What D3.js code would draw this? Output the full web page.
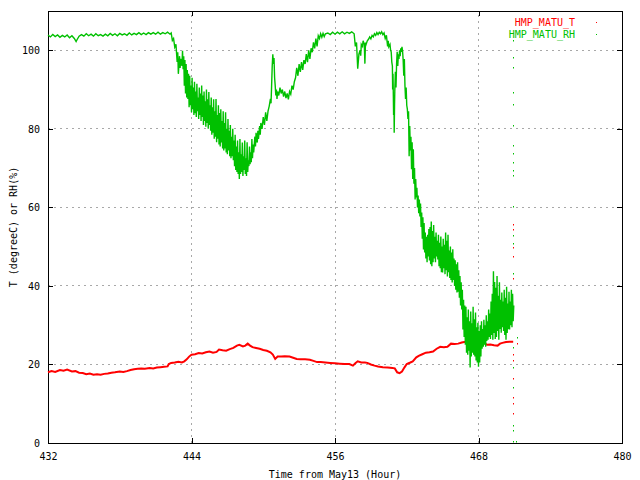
<!DOCTYPE html>
<html>
<head>
<meta charset="utf-8">
<script src="https://cdn.jsdelivr.net/npm/d3@7"></script>
<style>
  body { margin: 0; background: #fff; }
  svg { display: block; }
  text { font-family: "DejaVu Sans Mono", monospace; font-size: 10px; fill: #000; }
</style>
</head>
<body>
<div id="chart"></div>
<script>
// T and RH time series
const xTicks = [432, 444, 456, 468, 480];
const yTicks = [0, 20, 40, 60, 80, 100];
const seriesNames = ["HMP_MATU_T", "HMP_MATU_RH"];

// [hour, degreeC]
const tSeries = [
  [432.0,18.0],[432.3,18.3],[432.6,18.1],[433.0,18.6],[433.3,18.4],[433.6,18.7],[434.0,18.2],[434.3,18.3],
  [434.6,17.9],[434.9,17.8],[435.2,17.5],[435.5,17.7],[435.8,17.4],[436.1,17.5],[436.4,17.4],[436.7,17.6],
  [437.0,17.7],[437.3,17.9],[437.6,18.0],[438.0,18.2],[438.3,18.1],[438.6,18.3],[438.9,18.6],[439.2,18.8],
  [439.5,18.9],[439.8,19.0],[440.1,18.9],[440.5,19.1],[440.8,19.0],[441.1,19.2],[441.4,19.3],[441.7,19.4],
  [442.0,19.5],[442.1,20.1],[442.3,20.4],[442.6,20.5],[442.9,20.7],[443.2,20.5],[443.4,20.8],[443.6,21.3],
  [443.8,22.0],[444.0,22.5],[444.3,22.6],[444.6,22.9],[444.9,22.8],[445.2,23.1],[445.5,23.3],[445.8,23.0],
  [446.1,23.2],[446.3,23.8],[446.6,23.6],[446.9,23.5],[447.2,23.9],[447.5,24.2],[447.8,24.8],[448.0,25.0],
  [448.3,24.6],[448.5,24.8],[448.7,25.3],[448.9,24.8],[449.1,24.4],[449.4,24.2],[449.7,24.0],[450.0,23.7],
  [450.3,23.5],[450.6,23.1],[450.8,22.5],[451.0,21.4],[451.2,22.0],[451.5,22.0],[451.8,22.1],[452.2,22.0],
  [452.5,21.7],[452.8,21.4],[453.1,21.3],[453.5,21.3],[453.9,21.2],[454.2,20.9],[454.5,20.6],[454.8,20.6],
  [455.2,20.5],[455.6,20.4],[456.0,20.3],[456.4,20.2],[456.8,20.1],[457.2,20.1],[457.5,19.7],[457.7,20.3],
  [457.9,20.8],[458.2,20.5],[458.5,20.5],[458.7,20.4],[459.0,20.0],[459.3,19.7],[459.6,19.5],[460.0,19.3],
  [460.4,19.2],[460.8,19.1],[461.0,19.0],[461.2,18.0],[461.4,17.8],[461.6,18.2],[461.8,19.2],[462.0,20.1],
  [462.3,20.5],[462.5,20.8],[462.8,21.8],[463.0,22.2],[463.3,22.6],[463.6,23.0],[463.9,23.1],[464.2,23.3],
  [464.5,24.0],[464.8,24.5],[465.1,24.4],[465.4,24.5],[465.7,25.3],[466.0,25.2],[466.3,25.3],[466.6,25.6],
  [466.9,25.8],[467.2,25.7],[467.6,25.8],[468.0,26.0],[468.3,25.9],[468.7,25.0],[469.0,25.1],[469.3,24.9],
  [469.6,24.8],[469.8,25.3],[470.0,25.5],[470.3,25.7],[470.6,25.8],[470.9,25.8]
];

// [hour, RH %]
const rhSeries = [
  [432.0,103.9],[432.2,103.4],[432.4,104.0],[432.6,103.5],[432.8,103.9],[433.0,103.3],[433.2,103.8],[433.4,103.4],
  [433.6,103.9],[433.8,103.2],[434.0,103.7],[434.2,103.0],[434.35,102.2],[434.45,102.8],[434.6,103.6],[434.8,104.0],
  [435.0,103.6],[435.2,104.2],[435.4,103.7],[435.6,104.1],[435.8,103.6],[436.0,104.2],[436.2,103.7],[436.4,104.0],
  [436.6,103.6],[436.8,104.1],[437.0,103.7],[437.2,104.3],[437.4,103.8],[437.6,104.2],[437.8,103.7],[438.0,104.3],
  [438.2,103.9],[438.4,104.2],[438.6,103.8],[438.8,104.4],[439.0,103.9],[439.2,104.3],[439.4,104.0],[439.6,104.5],
  [439.8,104.0],[440.0,104.4],[440.2,104.0],[440.4,104.5],[440.6,104.1],[440.8,104.5],[441.0,104.1],[441.2,104.6],
  [441.4,104.1],[441.6,104.5],[441.8,104.2],[442.0,104.6],[442.2,104.1],
  [442.3,104.4],[442.4,102.5],[442.5,103.0],[442.6,100.8],[442.7,101.5],[442.8,97.0],[442.85,99.5],[442.9,94.0],
  [443.0,98.5],[443.05,95.5],[443.1,97.8],[443.2,96.0],[443.25,99.9],[443.3,95.2],[443.35,98.5],[443.4,91.0],
  [443.45,97.5],[443.5,89.0],[443.55,96.5],[443.6,88.0],[443.65,95.0],[443.7,87.6],[443.75,94.0],[443.8,85.5],
  [443.85,93.5],[443.9,86.0],[443.95,91.0],[444.0,84.2],[444.05,93.0],[444.1,85.0],[444.15,90.5],[444.2,83.5],
  [444.25,92.0],[444.3,84.0],[444.35,89.5],[444.4,83.0],[444.45,91.5],[444.5,84.5],[444.55,88.0],[444.6,82.5],
  [444.65,90.5],[444.7,83.5],[444.75,89.0],[444.8,82.0],[444.85,91.0],[444.9,83.0],[444.95,88.5],[445.0,81.0],
  [445.05,89.5],[445.1,82.0],[445.15,87.0],[445.2,80.5],[445.25,90.0],[445.3,81.5],[445.35,87.5],[445.4,80.0],
  [445.45,89.4],[445.5,81.0],[445.55,86.0],[445.6,79.5],[445.65,88.0],[445.7,78.5],[445.75,85.5],[445.8,79.0],
  [445.85,87.5],[445.9,77.5],[445.95,84.5],[446.0,78.0],[446.05,87.6],[446.1,76.6],[446.15,83.5],[446.2,77.5],
  [446.25,86.0],[446.3,76.0],[446.35,84.0],[446.4,75.5],[446.45,85.0],[446.5,76.5],[446.55,82.0],[446.6,75.0],
  [446.65,84.5],[446.7,74.5],[446.75,81.5],[446.8,75.0],[446.85,84.2],[446.9,74.0],[446.95,80.0],[447.0,73.5],
  [447.05,82.5],[447.1,74.5],[447.15,79.5],[447.2,73.0],[447.25,81.0],[447.3,72.5],[447.35,78.0],[447.4,73.0],
  [447.45,80.0],[447.5,72.0],[447.55,77.0],[447.6,70.5],[447.65,78.5],[447.7,69.5],[447.75,75.5],[447.8,69.0],
  [447.85,77.0],[447.9,68.5],[447.95,74.0],[448.0,67.2],[448.05,77.4],[448.1,68.5],[448.15,73.5],[448.2,69.0],
  [448.25,76.5],[448.3,68.0],[448.35,73.0],[448.4,69.5],[448.45,77.0],[448.5,68.5],[448.55,72.5],[448.6,68.0],
  [448.65,76.6],[448.7,69.0],[448.75,72.0],[448.8,70.5],[448.85,75.5],[448.9,71.0],[448.95,74.0],[449.0,71.5],
  [449.05,77.4],[449.1,72.5],[449.15,76.0],[449.2,74.0],[449.3,78.0],[449.35,75.5],[449.4,79.0],[449.5,76.5],
  [449.55,79.5],[449.6,77.4],[449.7,80.7],[449.75,78.5],[449.8,81.5],[449.9,80.0],[450.0,83.0],[450.1,81.0],
  [450.2,84.2],[450.3,82.0],[450.4,84.5],[450.5,85.8],[450.6,87.6],[450.65,86.5],[450.7,91.0],[450.75,96.0],
  [450.8,99.0],[450.85,96.5],[450.9,98.0],[450.95,93.0],[451.0,91.0],[451.05,88.5],[451.1,90.0],[451.15,87.6],
  [451.2,89.5],[451.3,88.5],[451.4,90.5],[451.5,89.0],[451.6,90.0],[451.7,88.2],[451.8,89.5],[451.9,87.8],
  [452.0,89.0],[452.1,87.5],[452.2,89.5],[452.3,88.8],[452.4,91.0],[452.5,90.0],[452.6,92.0],[452.7,93.0],
  [452.8,95.5],[452.9,93.5],[453.0,96.5],[453.1,94.5],[453.2,97.0],[453.3,95.0],[453.4,97.5],[453.5,96.5],
  [453.6,99.0],[453.7,97.0],[453.8,100.0],[453.9,97.8],[454.0,100.5],[454.1,99.5],[454.2,102.0],[454.3,100.5],
  [454.4,103.0],[454.5,101.0],[454.6,103.7],[454.7,103.0],[454.8,104.2],[454.9,103.3],[455.0,104.3],[455.1,103.5],
  [455.2,104.2],[455.4,104.4],[455.6,104.0],[455.8,104.6],[456.0,104.1],[456.2,104.6],[456.4,104.2],[456.6,104.7],
  [456.8,104.2],[457.0,104.6],[457.2,104.3],[457.4,104.7],[457.6,104.2],
  [457.7,101.0],[457.8,102.0],[457.9,95.3],[458.0,99.0],[458.1,100.0],[458.15,98.6],[458.2,101.5],[458.3,101.0],
  [458.35,102.4],[458.45,101.5],[458.5,96.6],[458.55,102.0],[458.6,101.5],[458.7,102.4],[458.8,102.8],[458.9,103.4],
  [459.0,102.9],[459.1,103.8],[459.2,103.4],[459.3,104.2],[459.4,103.8],[459.5,104.5],[459.6,104.0],[459.7,104.6],
  [459.8,104.2],[459.9,104.7],[460.0,104.0],[460.1,104.4],[460.2,103.0],[460.3,103.8],[460.4,101.0],[460.45,102.4],
  [460.5,100.9],[460.6,101.5],[460.65,100.0],[460.7,99.6],[460.75,97.0],[460.8,96.0],[460.82,90.0],[460.85,94.0],
  [460.88,88.0],[460.9,83.5],[460.93,87.5],[460.95,79.0],[460.98,86.0],[461.0,89.5],[461.05,94.5],[461.1,90.5],
  [461.15,96.5],[461.2,99.6],[461.25,96.0],[461.3,99.0],[461.35,97.8],[461.4,100.0],[461.45,98.5],[461.5,100.5],
  [461.55,99.6],[461.6,100.9],[461.65,99.8],[461.7,97.5],[461.75,93.5],[461.8,97.8],[461.85,91.0],[461.9,87.6],
  [461.95,90.5],[462.0,86.0],[462.05,85.0],[462.1,82.5],[462.15,84.5],[462.2,73.0],[462.25,80.7],[462.3,74.5],
  [462.35,78.0],[462.4,69.7],[462.45,76.6],[462.5,67.2],[462.55,74.8],[462.6,66.0],[462.65,70.0],[462.7,62.0],
  [462.75,67.2],[462.8,62.5],[462.85,65.0],[462.9,60.0],[462.95,63.0],[463.0,58.5],[463.05,62.0],[463.1,57.7],
  [463.15,61.0],[463.2,55.0],[463.25,58.7],[463.3,52.0],[463.35,57.5],[463.4,49.3],[463.45,56.0],[463.5,48.5],
  [463.55,53.6],[463.6,47.0],[463.65,52.5],[463.7,46.0],[463.75,53.0],[463.8,47.5],[463.85,54.5],[463.9,46.5],
  [463.95,55.0],[464.0,45.5],[464.05,56.4],[464.1,45.0],[464.15,54.0],[464.2,46.0],[464.25,55.5],[464.3,47.0],
  [464.35,52.5],[464.4,46.0],[464.45,53.6],[464.5,47.5],[464.55,51.5],[464.6,46.7],[464.65,53.0],[464.7,45.0],
  [464.75,51.0],[464.8,44.5],[464.85,52.6],[464.9,43.5],[464.95,50.0],[465.0,43.4],[465.05,52.0],[465.1,44.5],
  [465.15,50.5],[465.2,43.0],[465.25,53.6],[465.3,44.0],[465.35,51.5],[465.4,42.4],[465.45,53.0],[465.5,43.5],
  [465.55,49.0],[465.6,42.0],[465.65,50.0],[465.7,41.5],[465.75,48.5],[465.8,40.9],[465.85,49.3],[465.9,41.5],
  [465.95,47.0],[466.0,40.0],[466.05,46.5],[466.1,39.0],[466.15,45.5],[466.2,38.3],[466.25,46.0],[466.3,38.5],
  [466.35,44.0],[466.4,37.0],[466.45,42.5],[466.5,35.0],[466.55,40.9],[466.6,34.0],[466.65,39.0],[466.7,28.9],
  [466.75,36.5],[466.8,27.0],[466.85,35.0],[466.9,25.0],[466.95,34.7],[467.0,23.0],[467.05,32.0],[467.1,22.5],
  [467.15,34.0],[467.2,23.5],[467.25,31.0],[467.3,19.2],[467.35,33.5],[467.4,22.0],[467.45,30.5],[467.5,23.0],
  [467.55,34.7],[467.6,22.5],[467.65,31.5],[467.7,22.0],[467.75,33.2],[467.8,21.0],[467.85,29.5],[467.9,20.5],
  [467.95,30.6],[468.0,19.4],[468.05,28.5],[468.1,20.5],[468.15,30.0],[468.2,22.0],[468.25,31.0],[468.3,24.0],
  [468.35,29.0],[468.4,24.5],[468.45,31.4],[468.5,25.0],[468.55,30.0],[468.6,24.5],[468.65,32.5],[468.7,26.0],
  [468.75,31.0],[468.8,26.3],[468.85,34.0],[468.9,27.0],[468.95,33.0],[469.0,26.5],[469.05,36.0],[469.1,27.5],
  [469.15,38.0],[469.2,26.3],[469.25,43.7],[469.3,28.0],[469.35,41.0],[469.4,26.5],[469.45,39.5],[469.5,27.0],
  [469.55,42.5],[469.6,28.5],[469.65,37.5],[469.7,26.3],[469.75,40.9],[469.8,29.0],[469.85,36.5],[469.9,28.1],
  [469.95,38.3],[470.0,29.5],[470.05,36.0],[470.1,28.5],[470.15,39.0],[470.2,27.5],[470.25,37.0],[470.3,26.3],
  [470.35,39.8],[470.4,28.0],[470.45,35.5],[470.5,29.0],[470.55,38.5],[470.6,28.9],[470.65,36.0],[470.7,30.0],
  [470.75,39.0],[470.8,29.5],[470.85,38.0],[470.9,31.0],[470.95,35.0]
];

// stray single samples around the end of the record
const tDots = [[470.9,55.7],[470.9,54.4],[470.9,49.8],[470.9,47.5],[470.9,42.1],[470.9,22.7],[470.9,21.2],
  [470.9,16.6],[470.9,11.8],[470.9,10.2],[470.9,7.7],[471.2,25.5]];
const rhDots = [[470.9,102.5],[470.9,98.3],[470.9,95.8],[470.9,89.4],[470.9,86.3],[470.9,81.0],[470.9,76.0],
  [470.9,73.8],[470.9,71.5],[470.9,69.5],[470.9,68.2],[470.9,60.3],[470.9,52.9],[470.9,51.0],[470.9,43.2],
  [470.9,24.5],[470.9,19.4],[470.9,14.3],[470.9,4.6],[470.9,3.3],[470.9,0.4],[471.1,0.4],[471.2,27.0]];

const W = 640, H = 480;
const margin = { top: 11, right: 18, bottom: 37, left: 48 };
const colors = { T: "#ff0000", RH: "#00c000" };

const svg = d3.select("#chart").append("svg")
  .attr("width", W)
  .attr("height", H);

const x = d3.scaleLinear().domain([432, 480]).range([margin.left, W - margin.right]);
const y = d3.scaleLinear().domain([0, 110]).range([H - margin.bottom, margin.top]);

// grid
const grid = svg.append("g")
  .attr("stroke", "#a8a8a8")
  .attr("stroke-dasharray", "2,4")
  .attr("shape-rendering", "crispEdges");

grid.selectAll("line.gy")
  .data(yTicks.filter(d => d > 0))
  .enter().append("line")
  .attr("x1", x(432)).attr("x2", x(480))
  .attr("y1", d => y(d)).attr("y2", d => y(d));

grid.selectAll("line.gx")
  .data(xTicks.slice(1, -1))
  .enter().append("line")
  .attr("x1", d => x(d)).attr("x2", d => x(d))
  .attr("y1", y(0)).attr("y2", y(110));

// axes with ticks pointing inwards, mirrored on top and right
const axisB = svg.append("g")
  .attr("transform", `translate(0,${y(0)})`)
  .call(d3.axisBottom(x).tickValues(xTicks).tickSize(-5).tickPadding(10));
const axisT = svg.append("g")
  .attr("transform", `translate(0,${y(110)})`)
  .call(d3.axisTop(x).tickValues(xTicks).tickSize(-5).tickFormat(""));
const axisL = svg.append("g")
  .attr("transform", `translate(${x(432)},0)`)
  .call(d3.axisLeft(y).tickValues(yTicks).tickSize(-5).tickPadding(8));
const axisR = svg.append("g")
  .attr("transform", `translate(${x(480)},0)`)
  .call(d3.axisRight(y).tickValues(yTicks).tickSize(-5).tickFormat(""));

[axisB, axisT, axisL, axisR].forEach(g => {
  g.select(".domain").remove();
  g.selectAll("line").attr("stroke", "#000").attr("shape-rendering", "crispEdges");
  g.selectAll("text")
    .style("font-family", '"DejaVu Sans Mono", monospace')
    .style("font-size", "10px")
    .attr("fill", "#000");
});

// border
svg.append("rect")
  .attr("x", x(432)).attr("y", y(110))
  .attr("width", x(480) - x(432)).attr("height", y(0) - y(110))
  .attr("fill", "none")
  .attr("stroke", "#000")
  .attr("shape-rendering", "crispEdges");

// data
const line = d3.line().x(d => x(d[0])).y(d => y(d[1]));

svg.append("path")
  .datum(tSeries)
  .attr("d", line)
  .attr("fill", "none")
  .attr("stroke", colors.T)
  .attr("stroke-width", 2);

svg.append("path")
  .datum(rhSeries)
  .attr("d", line)
  .attr("fill", "none")
  .attr("stroke", colors.RH)
  .attr("stroke-width", 1.4);

svg.selectAll("rect.tdot")
  .data(tDots)
  .enter().append("rect")
  .attr("class", "tdot")
  .attr("x", d => Math.round(x(d[0])))
  .attr("y", d => Math.round(y(d[1])))
  .attr("width", 1).attr("height", 1.5)
  .attr("fill", colors.T);

svg.selectAll("rect.rhdot")
  .data(rhDots)
  .enter().append("rect")
  .attr("class", "rhdot")
  .attr("x", d => Math.round(x(d[0])))
  .attr("y", d => Math.round(y(d[1])))
  .attr("width", 1).attr("height", 1.5)
  .attr("fill", colors.RH);

// legend
const legend = svg.append("g").attr("transform", "translate(575,22)");
seriesNames.forEach((name, i) => {
  const c = i === 0 ? colors.T : colors.RH;
  legend.append("text")
    .attr("x", 0)
    .attr("y", i * 12)
    .attr("dy", "0.35em")
    .attr("text-anchor", "end")
    .style("fill", c)
    .text(name);
  legend.append("rect")
    .attr("x", 21).attr("y", i * 12)
    .attr("width", 1).attr("height", 1)
    .attr("fill", c);
});

// axis titles
svg.append("text")
  .attr("x", (x(432) + x(480)) / 2)
  .attr("y", 474)
  .attr("dy", "0.35em")
  .attr("text-anchor", "middle")
  .text("Time from May13 (Hour)");

svg.append("text")
  .attr("transform", `translate(13,${(y(0) + y(110)) / 2}) rotate(-90)`)
  .attr("dy", "0.35em")
  .attr("text-anchor", "middle")
  .text("T (degreeC) or RH(%)");
</script>
</body>
</html>
